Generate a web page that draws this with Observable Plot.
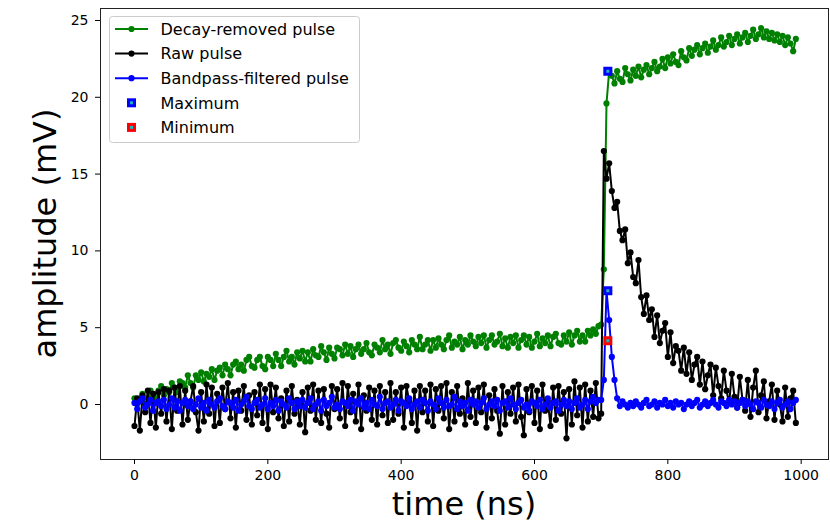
<!DOCTYPE html>
<html>
<head>
<meta charset="utf-8">
<script src="https://cdn.jsdelivr.net/npm/d3@7"></script>
<script src="https://cdn.jsdelivr.net/npm/@observablehq/plot@0.6"></script>
<style>
  body { margin: 0; background: #fff; }
  svg { display: block; }
</style>
</head>
<body>
<div id="chart"></div>
<script>
// Digitizer sampling period (ns); sample i is taken at i * samplePeriod.
const samplePeriod = 4;

// Decay-removed pulse (mV)
const decayRemoved = [
  0.4, 0.0, 0.3, 0.7, 0.0, 0.4, 0.9, 0.5, 0.2, 0.9, 1.2, 0.6, 1.0, 0.8, 1.4, 1.1,
  0.8, 1.5, 1.4, 1.1, 1.9, 1.4, 1.1, 1.9, 1.6, 2.1, 1.5, 2.0, 1.8, 2.3, 1.6, 2.2,
  2.4, 1.9, 2.6, 2.3, 1.9, 2.6, 2.8, 2.3, 2.6, 2.2, 2.9, 3.1, 2.5, 2.4, 2.9, 3.1,
  2.5, 2.3, 3.1, 2.9, 2.5, 3.3, 2.9, 2.5, 3.1, 3.5, 2.8, 3.1, 2.6, 3.4, 3.0, 3.5,
  2.8, 3.4, 2.8, 3.6, 3.2, 3.1, 3.8, 3.4, 2.9, 3.7, 3.3, 3.0, 3.7, 3.6, 3.2, 3.9,
  3.3, 3.8, 3.1, 3.6, 3.9, 3.3, 3.6, 4.0, 3.4, 3.2, 3.9, 3.7, 3.4, 4.2, 3.6, 3.9,
  3.3, 4.0, 4.2, 3.7, 3.5, 4.1, 3.8, 3.4, 4.2, 3.9, 3.6, 4.4, 3.6, 3.9, 4.2, 3.5,
  4.2, 3.7, 4.3, 3.9, 3.6, 4.2, 4.5, 3.7, 4.1, 3.9, 4.4, 3.6, 4.2, 3.9, 4.5, 4.1,
  3.8, 4.4, 4.0, 4.5, 3.7, 4.2, 4.5, 3.9, 4.1, 4.6, 3.8, 4.3, 3.7, 4.4, 4.0, 4.5,
  3.7, 4.2, 4.5, 3.9, 4.4, 3.7, 4.1, 4.6, 3.8, 4.3, 4.0, 4.5, 3.8, 4.4, 4.6, 4.0,
  3.9, 4.5, 4.1, 4.7, 3.9, 4.5, 4.8, 4.1, 4.5, 4.1, 4.8, 4.5, 4.9, 4.6, 5.1, 5.2,
  8.8, 19.6, 21.7,
  21.4, 20.9, 21.7, 21.2, 21.0, 21.9, 21.5, 21.1, 21.8, 21.4,
  22.0, 21.3, 21.8, 22.1, 21.5, 21.9, 22.3, 21.7, 22.0, 22.5,
  21.9, 22.6, 22.2, 22.8, 22.3, 22.1, 23.0, 22.6, 22.4, 23.2,
  22.7, 23.1, 23.4, 22.8, 23.2, 23.5, 22.9, 23.3, 23.7, 23.1,
  23.4, 23.9, 23.3, 23.6, 24.0, 23.4, 23.8, 24.1, 23.5, 23.9,
  24.2, 23.6, 24.0, 24.4, 23.8, 24.1, 24.5, 23.9, 24.3, 23.8,
  24.2, 23.7, 24.1, 23.6, 24.0, 23.4, 23.9, 23.5, 23.0, 23.8
];

// Raw pulse (mV)
const rawPulse = [
  -1.4, 0.4, -1.7, 0.6, -0.5, 0.9, -1.2, 0.7, -1.5, 0.8, -0.6, 1.0, -1.1, 0.9, -1.6, 1.1,
  -0.4, 1.2, -1.3, 0.9, -1.0, 0.2, 1.2, -0.5, -1.7, 0.8, -1.1, 1.3, -0.6, 1.1, -1.4, 0.7,
  -1.2, 1.1, -0.3, 1.4, -0.9, 0.8, -1.5, 0.9, -0.4, 1.2, -1.0, 0.6, -1.3, 0.8, -0.7, 1.3,
  -1.2, 1.0, -1.6, 1.3, -0.5, 1.1, -0.9, 0.4, -1.4, 0.9, -1.1, 1.2, -0.6, 0.3, -1.3, 0.8,
  -1.8, 1.1, -0.4, 1.3, -1.0, 0.9, -1.2, 1.0, -0.6, -1.5, 1.2, -0.3, 1.0, -0.9, 1.4, -1.4,
  1.2, -0.5, 0.7, -1.1, 1.3, -1.6, 0.6, -0.4, 1.1, -1.0, 0.9, -1.3, 1.2, -0.7, 0.8, -1.2,
  1.4, -1.0, 0.8, -0.6, 1.1, -1.5, 1.2, 0.2, -1.2, 0.9, -1.7, 1.2, -0.5, 0.9, -1.1, 1.3,
  -1.4, 1.0, -0.4, 1.2, -0.9, 1.4, -1.6, 0.8, -1.1, 1.2, -0.6, 0.4, -1.3, 1.4, -0.8, 0.9,
  -1.2, 1.1, -0.5, 1.3, -1.5, 0.6, -0.9, 1.0, -0.4, -1.9, 1.2, -1.3, 0.8, -0.6, 1.1, -1.1,
  1.3, -0.8, -2.0, 1.0, -0.5, 1.2, -1.2, 0.9, -1.6, 1.3, -0.4, 0.2, -1.4, 1.1, -1.0, 1.2,
  -0.6, 0.8, -2.2, 1.0, -1.3, 1.5, -0.7, 1.1, -1.5, 1.3, -1.1, 0.9, -0.8, 1.4, -0.9, -0.6,
  16.5, 14.7, 15.7, 13.9, 12.8, 13.2, 11.3, 10.7, 11.4, 9.2,
  9.9, 8.3, 7.9, 9.4, 7.0, 5.9, 7.1, 5.5, 6.2, 4.4,
  5.8, 4.0, 4.8, 5.3, 3.1, 4.7, 2.7, 3.8, 3.5, 2.2,
  3.7, 2.0, 3.4, 1.6, 2.6, 3.1, 1.3, 2.8, 1.0, 1.9,
  2.6, 0.6, 2.4, 1.2, 0.4, 2.2, 0.9, 0.1, 2.0, 0.5,
  -0.2, 1.8, 0.3, -0.4, 1.6, -0.8, 1.1, 2.2, -0.5, 0.6,
  1.5, -0.9, 0.2, 1.3, -1.0, 0.9, 0.0, -1.1, 1.1, -0.8,
  0.4, 0.9, -1.2
];

// Bandpass-filtered pulse (mV)
const bandpassFiltered = [
  0.1, -0.3, 0.2, 0.4, -0.2, 0.0, 0.3, -0.4, 0.1, 0.2, -0.1, 0.3, -0.3, 0.0, 0.4, -0.2,
  0.2, -0.4, 0.1, 0.3, -0.1, 0.2, -0.3, 0.0, 0.4, -0.2, 0.1, -0.4, 0.3, 0.0, -0.2, 0.2,
  0.4, -0.1, -0.3, 0.2, 0.1, -0.2, 0.3, -0.4, 0.0, 0.2, 0.5, -0.1, -0.3, 0.1, 0.3, -0.2,
  0.0, 0.4, -0.3, 0.1, -0.1, 0.3, -0.4, 0.2, 0.0, -0.2, 0.4, 0.1, -0.3, 0.2, -0.1, 0.3,
  -0.2, 0.1, 0.4, -0.3, 0.0, 0.2, -0.4, 0.3, -0.1, 0.1, 0.5, -0.2, 0.0, -0.3, 0.2, 0.1,
  -0.1, 0.3, -0.4, 0.2, 0.0, 0.4, -0.2, 0.1, -0.3, 0.3, 0.0, -0.1, 0.5, -0.3, 0.1, 0.2,
  -0.2, 0.0, 0.3, -0.4, 0.2, 0.1, -0.1, 0.4, -0.3, 0.0, 0.2, -0.2, 0.3, 0.1, -0.4, 0.2,
  0.0, -0.3, 0.4, 0.1, -0.2, 0.3, -0.1, 0.0, 0.5, -0.3, 0.2, -0.1, 0.1, -0.4, 0.3, 0.0,
  0.2, -0.2, 0.1, 0.4, -0.3, 0.0, 0.2, -0.1, 0.3, -0.4, 0.1, 0.2, -0.2, 0.4, 0.0, -0.3,
  0.1, 0.3, -0.2, 0.0, -0.4, 0.2, 0.1, -0.1, 0.3, -0.3, 0.0, 0.4, -0.2, 0.1, 0.2, -0.4,
  0.0, 0.3, -0.1, 0.2, -0.3, 0.1, 0.4, -0.2, 0.0, 0.3, -0.3, 0.2, 0.5, 0.1, 0.3, 0.3,
  1.6, 7.4, 5.5, 3.1, 1.6, 0.4, -0.1, 0.2, 0.0, -0.2,
  0.1, -0.1, 0.2, 0.0, -0.2, 0.1, 0.3, -0.1, 0.0, 0.2,
  -0.2, 0.1, 0.0, 0.3, -0.1, 0.1, -0.2, 0.2, 0.0, 0.1,
  -0.3, 0.0, 0.2, -0.1, 0.1, 0.3, -0.2, 0.0, 0.2, -0.1,
  0.1, 0.3, 0.0, -0.2, 0.2, 0.1, -0.1, 0.3, 0.0, 0.2,
  -0.2, 0.1, 0.3, -0.1, 0.2, 0.0, -0.3, 0.2, 0.1, -0.2,
  0.3, 0.0, -0.1, 0.2, -0.3, 0.1, 0.3, -0.2, 0.0, 0.2,
  -0.3, 0.1, 0.3
];

// Pulse-shape markers
const maximumTimes = [710, 710];
const maximumValues = [21.7, 7.4];
const minimumTimes = [710];
const minimumValues = [4.15];

// Axes
const xTicks = [0, 200, 400, 600, 800, 1000];
const yTicks = [0, 5, 10, 15, 20, 25];
const xLabel = "time (ns)";
const yLabel = "amplitude (mV)";

// Legend entries (label, colour, handle kind)
const legendLabels = ["Decay-removed pulse", "Raw pulse", "Bandpass-filtered pulse", "Maximum", "Minimum"];
const legendColors = ["#008000", "#000000", "#0000ff", "#0000ff", "#ff0000"];
const legendKinds = ["line", "line", "line", "square", "square"];

const markerFace = "#1cb5c0";
const font = "DejaVu Sans";
const dotRadius = 3.1;

const toRows = (values) => values.map((v, i) => ({t: i * samplePeriod, v}));
const green = toRows(decayRemoved);
const black = toRows(rawPulse);
const blue = toRows(bandpassFiltered);
const maxima = maximumTimes.map((t, i) => ({t, v: maximumValues[i]}));
const minima = minimumTimes.map((t, i) => ({t, v: minimumValues[i]}));

const seriesMarks = (rows, color) => [
  Plot.line(rows, {x: "t", y: "v", stroke: color, strokeWidth: 2}),
  Plot.dot(rows, {x: "t", y: "v", r: dotRadius, fill: color})
];

const chart = Plot.plot({
  width: 830,
  height: 522,
  marginLeft: 100,
  marginRight: 2,
  marginTop: 8,
  marginBottom: 63,
  style: {fontFamily: font, fontSize: "14px", color: "#000", background: "#fff"},
  x: {domain: [-51, 1041]},
  y: {domain: [-3.58, 25.78]},
  marks: [
    ...seriesMarks(green, "#008000"),
    ...seriesMarks(black, "#000000"),
    ...seriesMarks(blue, "#0000ff"),
    Plot.dot(maxima, {x: "t", y: "v", symbol: "square", r: 3.4, fill: markerFace, stroke: "#0000ff", strokeWidth: 3}),
    Plot.dot(minima, {x: "t", y: "v", symbol: "square", r: 3.4, fill: markerFace, stroke: "#ff0000", strokeWidth: 3}),
    Plot.frame({stroke: "#222", strokeWidth: 1}),
    Plot.axisX({ticks: xTicks, tickSize: 5, tickPadding: 6, tickFormat: (d) => String(d), label: null, fontSize: 14}),
    Plot.axisY({ticks: yTicks, tickSize: 5, tickPadding: 7, tickFormat: (d) => String(d), label: null, fontSize: 14})
  ]
});

document.getElementById("chart").appendChild(chart);

// Axis titles, placed from the scale ranges
const svg = d3.select(chart);
const [x0, x1] = chart.scale("x").range;
const [y0, y1] = chart.scale("y").range;

svg.append("text")
  .attr("x", (x0 + x1) / 2)
  .attr("y", y0 + 56)
  .attr("text-anchor", "middle")
  .attr("font-family", font)
  .attr("font-size", 32)
  .attr("fill", "#000")
  .text(xLabel);

svg.append("text")
  .attr("transform", `translate(${x0 - 44},${(y0 + y1) / 2}) rotate(-90)`)
  .attr("text-anchor", "middle")
  .attr("font-family", font)
  .attr("font-size", 32)
  .attr("fill", "#000")
  .text(yLabel);

// Legend box in the upper-left corner of the axes
const legend = svg.append("g")
  .attr("transform", `translate(${x0 + 9.5},${y1 + 8.5})`)
  .attr("font-family", font)
  .attr("font-size", 16)
  .attr("text-anchor", "start");

legend.append("rect")
  .attr("width", 250)
  .attr("height", 126)
  .attr("rx", 3)
  .attr("fill", "#fff")
  .attr("fill-opacity", 0.8)
  .attr("stroke", "#cccccc");

legendLabels.forEach((label, i) => {
  const cy = 12.5 + i * 24.6;
  const color = legendColors[i];
  if (legendKinds[i] === "line") {
    legend.append("line")
      .attr("x1", 5.5).attr("x2", 38.5).attr("y1", cy).attr("y2", cy)
      .attr("stroke", color).attr("stroke-width", 2);
    legend.append("circle")
      .attr("cx", 22).attr("cy", cy).attr("r", dotRadius).attr("fill", color);
  } else {
    legend.append("rect")
      .attr("x", 22 - 3).attr("y", cy - 3).attr("width", 6).attr("height", 6)
      .attr("fill", markerFace).attr("stroke", color).attr("stroke-width", 3);
  }
  legend.append("text")
    .attr("x", 51)
    .attr("y", cy)
    .attr("dy", "0.36em")
    .attr("text-anchor", "start")
    .attr("fill", "#000")
    .text(label);
});
</script>
</body>
</html>
